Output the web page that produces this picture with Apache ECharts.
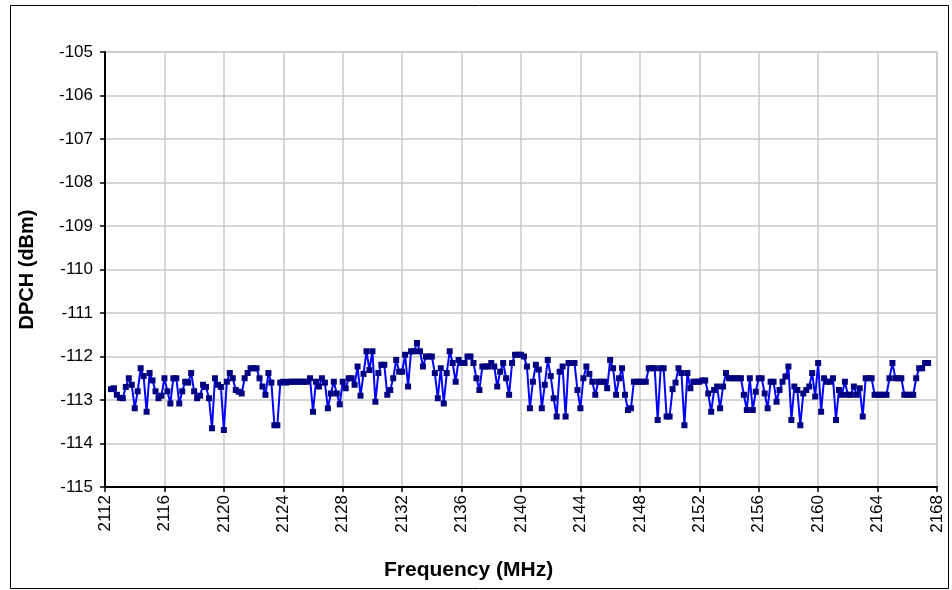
<!DOCTYPE html>
<html>
<head>
<meta charset="utf-8">
<script src="https://cdn.jsdelivr.net/npm/echarts@6/dist/echarts.min.js"></script>
<style>
html,body{margin:0;padding:0;background:#fff;}
#chart{width:952px;height:590px;}
</style>
</head>
<body>
<div id="chart"></div>
<script>
// Frequency sweep points (MHz)
var freqs = [
  2112.4,2112.6,2112.8,2113.0,2113.2,2113.4,2113.6,2113.8,2114.0,2114.2,
  2114.4,2114.6,2114.8,2115.0,2115.2,2115.4,2115.6,2115.8,2116.0,2116.2,
  2116.4,2116.6,2116.8,2117.0,2117.2,2117.4,2117.6,2117.8,2118.0,2118.2,
  2118.4,2118.6,2118.8,2119.0,2119.2,2119.4,2119.6,2119.8,2120.0,2120.2,
  2120.4,2120.6,2120.8,2121.0,2121.2,2121.4,2121.6,2121.8,2122.0,2122.2,
  2122.4,2122.6,2122.8,2123.0,2123.2,2123.4,2123.6,2123.8,2124.0,2124.2,
  2124.4,2124.6,2124.8,2125.0,2125.2,2125.4,2125.6,2125.8,2126.0,2126.2,
  2126.4,2126.6,2126.8,2127.0,2127.2,2127.4,2127.6,2127.8,2128.0,2128.2,
  2128.4,2128.6,2128.8,2129.0,2129.2,2129.4,2129.6,2129.8,2130.0,2130.2,
  2130.4,2130.6,2130.8,2131.0,2131.2,2131.4,2131.6,2131.8,2132.0,2132.2,
  2132.4,2132.6,2132.8,2133.0,2133.2,2133.4,2133.6,2133.8,2134.0,2134.2,
  2134.4,2134.6,2134.8,2135.0,2135.2,2135.4,2135.6,2135.8,2136.0,2136.2,
  2136.4,2136.6,2136.8,2137.0,2137.2,2137.4,2137.6,2137.8,2138.0,2138.2,
  2138.4,2138.6,2138.8,2139.0,2139.2,2139.4,2139.6,2139.8,2140.0,2140.2,
  2140.4,2140.6,2140.8,2141.0,2141.2,2141.4,2141.6,2141.8,2142.0,2142.2,
  2142.4,2142.6,2142.8,2143.0,2143.2,2143.4,2143.6,2143.8,2144.0,2144.2,
  2144.4,2144.6,2144.8,2145.0,2145.2,2145.4,2145.6,2145.8,2146.0,2146.2,
  2146.4,2146.6,2146.8,2147.0,2147.2,2147.4,2147.6,2147.8,2148.0,2148.2,
  2148.4,2148.6,2148.8,2149.0,2149.2,2149.4,2149.6,2149.8,2150.0,2150.2,
  2150.4,2150.6,2150.8,2151.0,2151.2,2151.4,2151.6,2151.8,2152.0,2152.2,
  2152.4,2152.6,2152.8,2153.0,2153.2,2153.4,2153.6,2153.8,2154.0,2154.2,
  2154.4,2154.6,2154.8,2155.0,2155.2,2155.4,2155.6,2155.8,2156.0,2156.2,
  2156.4,2156.6,2156.8,2157.0,2157.2,2157.4,2157.6,2157.8,2158.0,2158.2,
  2158.4,2158.6,2158.8,2159.0,2159.2,2159.4,2159.6,2159.8,2160.0,2160.2,
  2160.4,2160.6,2160.8,2161.0,2161.2,2161.4,2161.6,2161.8,2162.0,2162.2,
  2162.4,2162.6,2162.8,2163.0,2163.2,2163.4,2163.6,2163.8,2164.0,2164.2,
  2164.4,2164.6,2164.8,2165.0,2165.2,2165.4,2165.6,2165.8,2166.0,2166.2,
  2166.4,2166.6,2166.8,2167.0,2167.2,2167.4
];
// DPCH level (dBm)
var dpch = [
  -112.75,-112.73,-112.88,-112.95,-112.96,-112.70,-112.50,-112.65,-113.19,-112.80,
  -112.27,-112.45,-113.27,-112.38,-112.55,-112.80,-112.96,-112.90,-112.50,-112.80,
  -113.08,-112.50,-112.50,-113.08,-112.80,-112.58,-112.60,-112.38,-112.80,-112.96,
  -112.90,-112.65,-112.70,-112.96,-113.65,-112.50,-112.65,-112.70,-113.69,-112.58,
  -112.38,-112.50,-112.77,-112.81,-112.85,-112.50,-112.38,-112.27,-112.27,-112.27,
  -112.50,-112.69,-112.88,-112.38,-112.60,-113.58,-113.58,-112.60,-112.58,-112.60,
  -112.58,-112.58,-112.58,-112.58,-112.58,-112.58,-112.58,-112.50,-113.27,-112.58,
  -112.69,-112.50,-112.60,-113.19,-112.85,-112.58,-112.85,-113.10,-112.58,-112.73,
  -112.50,-112.50,-112.65,-112.23,-112.90,-112.40,-111.88,-112.31,-111.88,-113.04,
  -112.38,-112.19,-112.19,-112.88,-112.77,-112.50,-112.08,-112.35,-112.35,-111.96,
  -112.69,-111.88,-111.88,-111.69,-111.88,-112.23,-112.00,-112.00,-112.00,-112.38,
  -112.96,-112.27,-113.08,-112.38,-111.88,-112.15,-112.58,-112.08,-112.15,-112.15,
  -112.00,-112.00,-112.15,-112.50,-112.77,-112.23,-112.23,-112.23,-112.15,-112.23,
  -112.69,-112.35,-112.15,-112.50,-112.88,-112.15,-111.96,-111.96,-111.96,-112.00,
  -112.23,-113.19,-112.58,-112.19,-112.30,-113.19,-112.65,-112.08,-112.45,-112.96,
  -113.38,-112.35,-112.23,-113.38,-112.15,-112.15,-112.15,-112.77,-113.19,-112.50,
  -112.23,-112.40,-112.58,-112.88,-112.58,-112.58,-112.58,-112.73,-112.08,-112.27,
  -112.88,-112.50,-112.27,-112.88,-113.23,-113.19,-112.58,-112.58,-112.58,-112.58,
  -112.58,-112.27,-112.27,-112.27,-113.46,-112.27,-112.27,-113.38,-113.38,-112.75,
  -112.60,-112.27,-112.38,-113.58,-112.38,-112.73,-112.58,-112.58,-112.58,-112.55,
  -112.55,-112.85,-113.27,-112.77,-112.69,-113.19,-112.69,-112.38,-112.50,-112.50,
  -112.50,-112.50,-112.50,-112.88,-113.23,-112.50,-113.23,-112.81,-112.50,-112.50,
  -112.85,-113.19,-112.58,-112.58,-113.04,-112.77,-112.58,-112.46,-112.23,-113.46,
  -112.69,-112.77,-113.58,-112.85,-112.77,-112.69,-112.38,-112.92,-112.15,-113.27,
  -112.50,-112.58,-112.58,-112.50,-113.46,-112.77,-112.88,-112.58,-112.88,-112.88,
  -112.69,-112.88,-112.73,-113.38,-112.50,-112.50,-112.50,-112.88,-112.88,-112.88,
  -112.88,-112.88,-112.50,-112.15,-112.50,-112.50,-112.50,-112.88,-112.88,-112.88,
  -112.88,-112.50,-112.27,-112.27,-112.15,-112.15
];
var xAxisRange = [2112, 2168, 4];
var yAxisRange = [-115, -105, 1];
var xTitle = 'Frequency (MHz)';
var yTitle = 'DPCH (dBm)';

var seriesData = freqs.map(function (f, i) { return [f, dpch[i]]; });

var chart = echarts.init(document.getElementById('chart'), null, {renderer: 'canvas'});
var font = '"Liberation Sans", Arial, sans-serif';
chart.setOption({
  animation: false,
  backgroundColor: '#ffffff',
  graphic: [{
    type: 'rect',
    shape: {x: 10.5, y: 5.5, width: 938, height: 583},
    style: {fill: 'none', stroke: '#000000', lineWidth: 1},
    silent: true, z: -1
  }, {
    type: 'text',
    left: 474 - 90, top: 560,
    style: {text: xTitle, font: 'bold 21px "Liberation Sans", Arial, sans-serif', fill: '#000', width: 180, align: 'left'},
    silent: true
  }],
  grid: {left: 105, right: 15, top: 52, bottom: 103, show: true, borderColor: '#c0c0c0', borderWidth: 1},
  xAxis: {
    type: 'value',
    min: xAxisRange[0], max: xAxisRange[1], interval: xAxisRange[2],
    axisLine: {show: true, onZero: false, lineStyle: {color: '#000', width: 2}},
    axisTick: {show: true, length: 5, lineStyle: {color: '#000', width: 1.5}},
    axisLabel: {rotate: 90, fontFamily: font, fontSize: 17, color: '#000', margin: 8,
      formatter: function (v) { return String(v); }},
    splitLine: {show: true, lineStyle: {color: '#c8c8c8', width: 1.5}}
  },
  yAxis: {
    type: 'value',
    min: yAxisRange[0], max: yAxisRange[1], interval: yAxisRange[2],
    name: yTitle, nameLocation: 'middle', nameGap: 68, nameRotate: 90,
    nameTextStyle: {fontFamily: font, fontSize: 20, fontWeight: 'bold', color: '#000'},
    axisLine: {show: true, onZero: false, lineStyle: {color: '#000', width: 2}},
    axisTick: {show: true, length: 5, lineStyle: {color: '#000', width: 1.5}},
    axisLabel: {fontFamily: font, fontSize: 17, color: '#000', margin: 12,
      formatter: function (v) { return String(v); }},
    splitLine: {show: true, lineStyle: {color: '#c8c8c8', width: 1.5}}
  },
  series: [{
    type: 'line',
    data: seriesData,
    symbol: 'rect',
    symbolSize: 6,
    showAllSymbol: true,
    lineStyle: {color: '#0000ff', width: 2},
    itemStyle: {color: '#000080', borderWidth: 0},
    z: 3
  }]
});
</script>
</body>
</html>
